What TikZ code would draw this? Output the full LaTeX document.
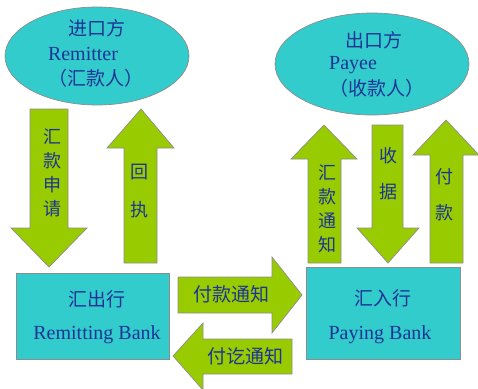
\documentclass[tikz,border=0pt]{standalone}
\usepackage{fontspec}
\setmainfont{Liberation Serif}
\newfontfamily\cjk{Noto Sans CJK SC}
\usetikzlibrary{shapes.geometric}
\definecolor{cyanfill}{HTML}{33CCCC}
\definecolor{greenfill}{HTML}{99CC00}
\definecolor{txtblue}{RGB}{28,52,150}
\definecolor{edgegray}{RGB}{140,140,140}
\tikzset{
  bubble/.style={ellipse,fill=cyanfill,draw=edgegray,line width=0.7pt,inner sep=0pt},
  bankbox/.style={rectangle,fill=cyanfill,draw=edgegray,line width=0.7pt,inner sep=0pt},
  bigarrow/.style={fill=greenfill,draw=edgegray,line width=0.7pt,line join=miter},
  cjktxt/.style={text=txtblue,font=\cjk\fontsize{19}{22}\selectfont,inner sep=0pt},
  lattxt/.style={text=txtblue,font=\fontsize{20}{22}\selectfont,inner sep=0pt},
  vtxt/.style={text=txtblue,font=\cjk\fontsize{18}{24}\selectfont,align=center,inner sep=0pt}
}
\begin{document}
\begin{tikzpicture}[x=1pt,y=-1pt]
\useasboundingbox (0,0) rectangle (478,388);
% parties
\node[bubble,minimum width=184pt,minimum height=98pt] (remitter) at (97,56) {};
\node[bubble,minimum width=194pt,minimum height=102pt] (payee) at (372,64) {};
\node[cjktxt] (t1) at (97,28) {进口方};
\node[lattxt] (t2) at (83,54) {Remitter};
\node[cjktxt] (t3) at (96,78) {（汇款人）};
\node[cjktxt] (t4) at (374,40) {出口方};
\node[lattxt] (t5) at (353,65) {Payee};
\node[cjktxt] (t6) at (377,88) {（收款人）};
% banks
\node[bankbox,minimum width=153pt,minimum height=86pt] (rbank) at (92.5,316) {};
\node[bankbox,minimum width=154pt,minimum height=92pt] (pbank) at (383,313) {};
\node[cjktxt] (b1) at (97,299) {汇出行};
\node[lattxt] (b2) at (97,335) {Remitting Bank};
\node[cjktxt] (b3) at (383,298) {汇入行};
\node[lattxt] (b4) at (380,335) {Paying Bank};
% vertical arrows
\filldraw[bigarrow] (30,109) -- (68,109) -- (68,228) -- (87,228) -- (49,267) -- (11,228) -- (30,228) -- cycle;
\filldraw[bigarrow] (141,109) -- (174,148) -- (157,148) -- (157,263) -- (124,263) -- (124,148) -- (107,148) -- cycle;
\filldraw[bigarrow] (324,125) -- (357,159) -- (341,159) -- (341,263) -- (308,263) -- (308,159) -- (291,159) -- cycle;
\filldraw[bigarrow] (372,125) -- (403,125) -- (403,228) -- (419,228) -- (388,263) -- (357,228) -- (372,228) -- cycle;
\filldraw[bigarrow] (446,120) -- (479,155) -- (463,155) -- (463,263) -- (430,263) -- (430,155) -- (413,155) -- cycle;
% horizontal arrows
\filldraw[bigarrow] (178,277) -- (272,277) -- (272,257) -- (302,295) -- (272,333) -- (272,313) -- (178,313) -- cycle;
\filldraw[bigarrow] (173,356) -- (203,323) -- (203,339) -- (292,339) -- (292,374) -- (203,374) -- (203,390) -- cycle;
% arrow labels
\node[vtxt] (a1) at (52,173) {汇\\款\\申\\请};
\node[vtxt] (a2) at (139,191) {回\\[14pt]执};
\node[vtxt] (a3) at (327,209) {汇\\款\\通\\知};
\node[vtxt] (a4) at (388,174) {收\\[12pt]据};
\node[vtxt] (a5) at (444,195) {付\\[12pt]款};
\node[cjktxt] (h1) at (231,294) {付款通知};
\node[cjktxt] (h2) at (245,356) {付讫通知};
\end{tikzpicture}
\end{document}
